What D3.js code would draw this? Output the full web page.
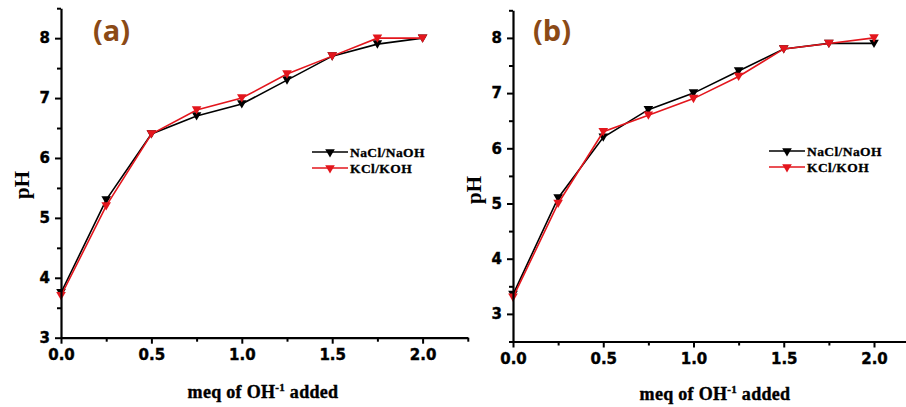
<!DOCTYPE html>
<html><head><meta charset="utf-8">
<script src="https://cdn.jsdelivr.net/npm/d3@7"></script>
<style>
body{margin:0;background:#fff;}
svg{display:block;}
</style>
</head><body>
<svg id="c" width="906" height="407"></svg>
<script>
const xValues = [0, 0.25, 0.5, 0.75, 1.0, 1.25, 1.5, 1.75, 2.0];
const seriesNames = ["NaCl/NaOH", "KCl/KOH"];
const aNaCl = [3.75, 5.3, 6.4, 6.7, 6.9, 7.3, 7.7, 7.9, 8.0];
const aKCl  = [3.7, 5.2, 6.4, 6.8, 7.0, 7.4, 7.7, 8.0, 8.0];
const bNaCl = [3.35, 5.1, 6.2, 6.7, 7.0, 7.4, 7.8, 7.9, 7.9];
const bKCl  = [3.3, 5.0, 6.3, 6.6, 6.9, 7.3, 7.8, 7.9, 8.0];
const xTicks = [0, 0.5, 1.0, 1.5, 2.0];
const xMinor = [0.25, 0.75, 1.25, 1.75, 2.25];
const aYTicks = [3, 4, 5, 6, 7, 8];
const aYMinor = [3.5, 4.5, 5.5, 6.5, 7.5, 8.5];
const bYTicks = [3, 4, 5, 6, 7, 8];
const bYMinor = [2.5, 3.5, 4.5, 5.5, 6.5, 7.5, 8.5];
const panelLabels = ["(a)", "(b)"];
const xLabel = "meq of OH";
const colors = ["#000000", "#e3161d"];

const svg = d3.select("#c");
const tri = d3.symbol().type(d3.symbolTriangle).size(40);

const panels = [
  {label: panelLabels[0], series: [aNaCl, aKCl], yDom: [3, 8.5], yTicks: aYTicks, yMinor: aYMinor,
   x0: 61, x1: 61 + 2.25 * 180.8, yb: 337.7, yt: 8.2, legX: 312, legY: 152, titleX: 93, xLabX: 263},
  {label: panelLabels[1], series: [bNaCl, bKCl], yDom: [2.5, 8.5], yTicks: bYTicks, yMinor: bYMinor,
   x0: 513, x1: 513 + 2.25 * 180.5, yb: 341.5, yt: 10.3, legX: 769, legY: 151, titleX: 533, xLabX: 715}
];

function styleTicks(s) {
  s.selectAll(".tick text")
    .style("font-family", "'DejaVu Sans',sans-serif")
    .style("font-weight", "bold")
    .style("font-size", "15px")
    .attr("fill", "#000")
    .attr("stroke", "#000").attr("stroke-width", 0.4);
}

panels.forEach((p, pi) => {
  const x = d3.scaleLinear().domain([0, 2.25]).range([p.x0, p.x1]);
  const y = d3.scaleLinear().domain(p.yDom).range([p.yb, p.yt]);
  const g = svg.append("g");

  // data lines and markers
  p.series.forEach((vals, si) => {
    const pts = xValues.map((xv, i) => [xv, vals[i]]);
    g.append("path").datum(pts)
      .attr("fill", "none").attr("stroke", colors[si]).attr("stroke-width", 1.6)
      .attr("d", d3.line().x(d => x(d[0])).y(d => y(d[1])));
    g.selectAll(null).data(pts).enter().append("path")
      .attr("d", tri)
      .attr("transform", d => `translate(${x(d[0])},${y(d[1]) - 1}) rotate(180)`)
      .attr("fill", colors[si]);
  });

  // axes
  const xa = g.append("g").attr("transform", `translate(0,${p.yb})`)
    .call(d3.axisBottom(x).tickValues(xTicks).tickFormat(d3.format(".1f")).tickSize(6).tickSizeOuter(0).tickPadding(6));
  xa.select(".domain").attr("stroke-width", 2.2);
  xa.selectAll(".tick line").attr("stroke-width", 2);
  styleTicks(xa);
  g.append("g").attr("transform", `translate(0,${p.yb})`)
    .call(d3.axisBottom(x).tickValues(xMinor).tickFormat("").tickSize(4).tickSizeOuter(0))
    .call(s => { s.select(".domain").remove(); s.selectAll(".tick line").attr("stroke-width", 2); });

  const ya = g.append("g").attr("transform", `translate(${p.x0},0)`)
    .call(d3.axisLeft(y).tickValues(p.yTicks).tickFormat(d3.format("d")).tickSize(6).tickSizeOuter(0).tickPadding(5));
  ya.select(".domain").attr("stroke-width", 2.2);
  ya.selectAll(".tick line").attr("stroke-width", 2);
  styleTicks(ya);
  g.append("g").attr("transform", `translate(${p.x0},0)`)
    .call(d3.axisLeft(y).tickValues(p.yMinor).tickFormat("").tickSize(4).tickSizeOuter(0))
    .call(s => { s.select(".domain").remove(); s.selectAll(".tick line").attr("stroke-width", 2); });

  // panel title
  g.append("text").attr("x", p.titleX).attr("y", 41)
    .attr("font-family", "'Open Sans',sans-serif").attr("font-weight", "bold").attr("font-size", 29)
    .attr("fill", "#8b4a16").text(p.label);

  // axis titles
  g.append("text").attr("transform", `translate(${pi === 0 ? 29 : 481},${pi === 0 ? 185 : 190}) rotate(-90)`)
    .attr("text-anchor", "middle")
    .attr("font-family", "'Liberation Serif',serif").attr("font-weight", "bold").attr("font-size", 21)
    .text("pH");
  const xt = g.append("text").attr("x", p.xLabX).attr("y", pi === 0 ? 398 : 400).attr("text-anchor", "middle")
    .attr("font-family", "'Liberation Serif',serif").attr("font-weight", "bold").attr("font-size", 18)
    .attr("stroke", "#000").attr("stroke-width", 0.4)
    .attr("letter-spacing", 0.3);
  xt.append("tspan").text(xLabel);
  xt.append("tspan").attr("dy", -7).attr("font-size", 11).text("-1");
  xt.append("tspan").attr("dy", 7).text(" added");

  // legend
  seriesNames.forEach((name, si) => {
    const ly = p.legY + si * 16;
    g.append("line").attr("x1", p.legX).attr("x2", p.legX + 36).attr("y1", ly).attr("y2", ly)
      .attr("stroke", colors[si]).attr("stroke-width", 1.6);
    g.append("path").attr("d", tri).attr("transform", `translate(${p.legX + 18},${ly}) rotate(180)`)
      .attr("fill", colors[si]);
    g.append("text").attr("x", p.legX + 38).attr("y", ly + 4.5)
      .attr("font-family", "'Liberation Serif',serif").attr("font-weight", "bold").attr("font-size", 13.5)
      .attr("stroke", "#000").attr("stroke-width", 0.3)
      .attr("letter-spacing", 0.4).text(name);
  });
});
</script>
</body></html>
